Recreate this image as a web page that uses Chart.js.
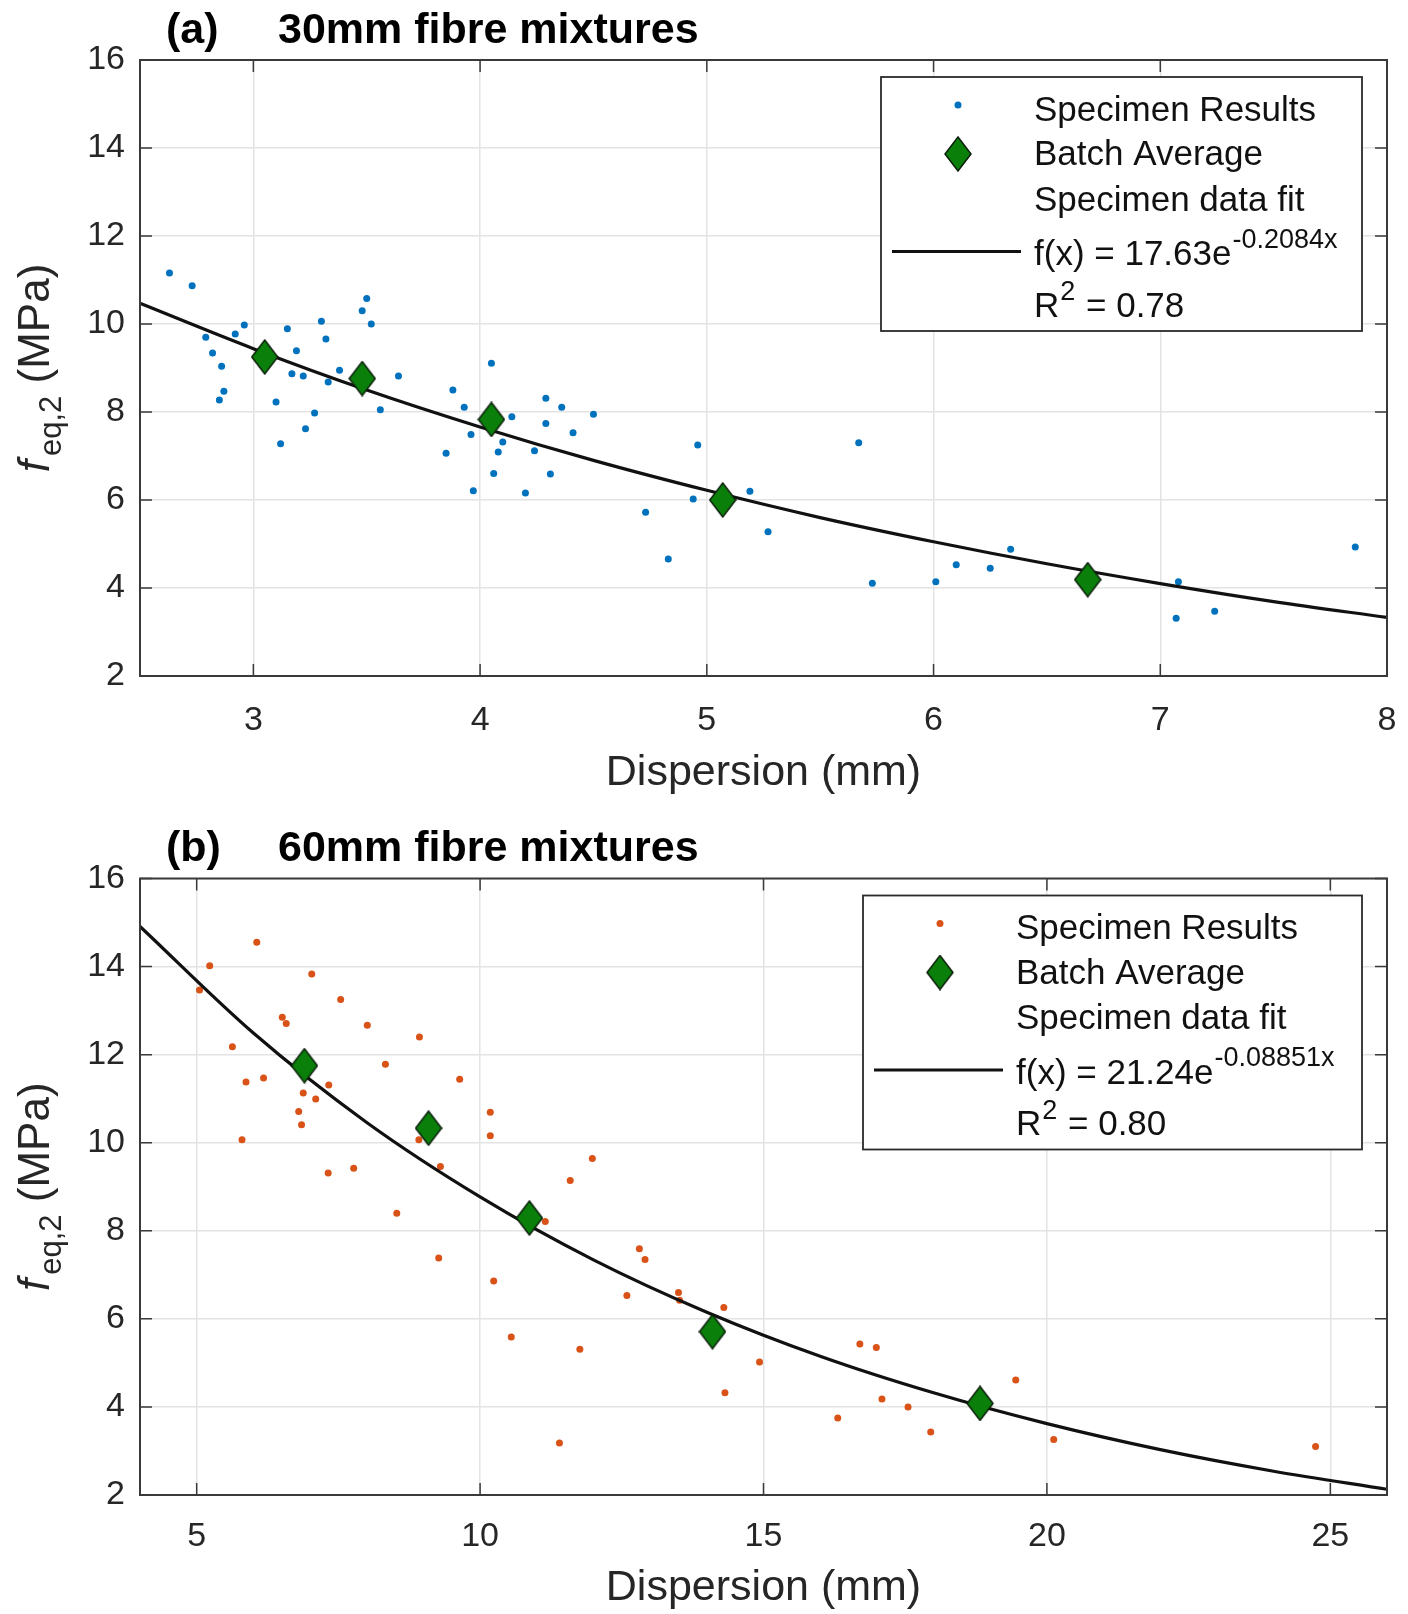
<!DOCTYPE html>
<html>
<head>
<meta charset="utf-8">
<title>feq,2 against dispersion</title>
<script src="https://cdn.jsdelivr.net/npm/chart.js@4.4.0/dist/chart.umd.min.js"></script>
<style>
  html, body { margin: 0; padding: 0; background: #fff; }
  #wrap { position: relative; width: 1408px; height: 1614px; }
  canvas { position: absolute; left: 0; }
  #chartA { top: 0; }
  #chartB { top: 807px; }
</style>
</head>
<body>
<div id="wrap">
  <canvas id="chartA" width="1408" height="807"></canvas>
  <canvas id="chartB" width="1408" height="807"></canvas>
</div>
<script>
'use strict';

// data

// (a) 30mm fibre mixtures
let disp30 = [2.63, 2.73, 2.79, 2.82, 2.86, 2.87, 2.85, 2.92, 2.96, 3.15,
  3.19, 3.17, 3.22, 3.10, 3.12, 3.30, 3.32, 3.33, 3.38, 3.27,
  3.23, 3.48, 3.50, 3.52, 3.64, 3.56, 3.88, 3.93, 4.05, 4.14,
  4.10, 4.08, 3.96, 3.85, 4.06, 3.97, 4.20, 4.29, 4.36, 4.29,
  4.24, 4.31, 4.41, 4.50, 4.96, 4.73, 4.83, 4.94, 5.19, 5.27,
  5.67, 5.73, 6.01, 6.10, 6.25, 6.34, 7.08, 7.07, 7.24, 7.86];
let feq30 = [11.16, 10.87, 9.70, 9.34, 9.04, 8.47, 8.27, 9.77, 9.98, 9.89,
  9.39, 8.87, 8.82, 8.23, 7.28, 10.06, 9.66, 8.68, 8.95, 7.98,
  7.62, 10.30, 10.58, 10.00, 8.82, 8.05, 8.50, 8.11, 9.11, 7.89,
  7.32, 7.09, 7.49, 7.06, 6.60, 6.21, 6.16, 8.31, 8.11, 7.74,
  7.12, 6.59, 7.53, 7.95, 7.25, 5.72, 4.66, 6.02, 6.20, 5.28,
  7.30, 4.11, 4.14, 4.53, 4.45, 4.88, 4.14, 3.31, 3.47, 4.93];
let batchDisp30 = [3.05, 3.48, 4.05, 5.07, 6.68];
let batchFeq30 = [9.25, 8.76, 7.83, 6.00, 4.19];
let fitDisp30 = [2.5, 3, 3.5, 4, 4.5, 5, 5.5, 6, 6.5, 7, 7.5, 8];
let fitFeq30 = [10.47, 9.44, 8.50, 7.66, 6.90, 6.22, 5.60, 5.05, 4.55, 4.10, 3.69, 3.33];
let xTicks30 = [3, 4, 5, 6, 7, 8];

// (b) 60mm fibre mixtures
let disp60 = [6.06, 5.23, 5.05, 7.03, 7.54, 6.51, 6.58, 8.01, 8.93, 5.63,
  8.33, 9.64, 5.87, 6.18, 7.33, 6.88, 7.10, 6.80, 6.85, 10.18,
  10.18, 8.92, 5.80, 7.32, 7.77, 9.30, 8.53, 11.98, 11.59, 11.15,
  9.27, 10.24, 12.81, 12.91, 12.59, 13.50, 13.52, 14.30, 10.55, 11.76,
  14.93, 14.32, 16.70, 16.99, 17.09, 16.31, 11.40, 17.55, 17.95, 19.45,
  20.12, 24.74];
let feq60 = [14.55, 14.02, 13.47, 13.83, 13.25, 12.85, 12.71, 12.67, 12.40, 12.18,
  11.78, 11.44, 11.38, 11.47, 11.31, 11.13, 10.99, 10.71, 10.41, 10.69,
  10.16, 10.07, 10.07, 9.31, 9.42, 9.46, 8.40, 9.64, 9.14, 8.21,
  7.38, 6.86, 7.59, 7.35, 6.53, 6.60, 6.42, 6.26, 5.59, 5.31,
  5.02, 4.32, 5.43, 5.35, 4.18, 3.75, 3.18, 4.00, 3.43, 4.61,
  3.26, 3.10];
let batchDisp60 = [6.90, 9.09, 10.87, 14.10, 18.82];
let batchFeq60 = [11.75, 10.33, 8.29, 5.71, 4.08];
let fitDisp60 = [4, 6, 8, 10, 12, 14, 16, 18, 20, 22, 24, 26];
let fitFeq60 = [14.91, 12.49, 10.46, 8.77, 7.34, 6.15, 5.15, 4.32, 3.62, 3.03, 2.54, 2.13];
let xTicks60 = [5, 10, 15, 20, 25];

let yTicks = [2, 4, 6, 8, 10, 12, 14, 16];
let legendLabels = ['Specimen Results', 'Batch Average', 'Specimen data fit'];

// look

let fontFamily = "'Liberation Sans', Arial, Helvetica, sans-serif";
let axisColor = '#262626';

Chart.defaults.font.family = fontFamily;
Chart.defaults.color = axisColor;

// MATLAB style diamond marker, a bit taller than wide
function makeDiamond(w, h) {
  let c = document.createElement('canvas');
  c.width = w;
  c.height = h;
  let g = c.getContext('2d');
  g.beginPath();
  g.moveTo(w / 2, 1);
  g.lineTo(w - 1, h / 2);
  g.lineTo(w / 2, h - 1);
  g.lineTo(1, h / 2);
  g.closePath();
  g.fillStyle = '#0a7f0a';
  g.fill();
  g.lineWidth = 1.5;
  g.strokeStyle = '#0b1f0b';
  g.stroke();
  return c;
}

let diamondImg = makeDiamond(28, 36);

function toPoints(xs, ys) {
  return xs.map((x, i) => ({ x: x, y: ys[i] }));
}

// plugin: axes box with inward ticks, panel title, y title and legend
function drawFrame(chart) {
  let ctx = chart.ctx;
  let a = chart.chartArea;
  let sx = chart.scales.x;
  let sy = chart.scales.y;
  ctx.save();
  ctx.strokeStyle = '#3a3a3a';
  ctx.lineWidth = 2;
  ctx.strokeRect(a.left, a.top, a.right - a.left, a.bottom - a.top);
  ctx.lineWidth = 1.5;
  ctx.beginPath();
  sx.ticks.forEach(t => {
    let px = sx.getPixelForValue(t.value);
    ctx.moveTo(px, a.bottom);
    ctx.lineTo(px, a.bottom - 12);
    ctx.moveTo(px, a.top);
    ctx.lineTo(px, a.top + 12);
  });
  sy.ticks.forEach(t => {
    let py = sy.getPixelForValue(t.value);
    ctx.moveTo(a.left, py);
    ctx.lineTo(a.left + 12, py);
    ctx.moveTo(a.right, py);
    ctx.lineTo(a.right - 12, py);
  });
  ctx.stroke();
  ctx.restore();
}

function drawTitle(chart, o) {
  let ctx = chart.ctx;
  let a = chart.chartArea;
  ctx.save();
  ctx.font = 'bold 43px ' + fontFamily;
  ctx.fillStyle = '#000';
  ctx.textBaseline = 'middle';
  ctx.fillText(o.tag, a.left + 26, a.top - 29);
  ctx.fillText(o.title, a.left + 138, a.top - 29);
  ctx.restore();
}

function drawYTitle(chart) {
  let ctx = chart.ctx;
  let a = chart.chartArea;
  let mainFont = '44px ' + fontFamily;
  let italicFont = 'italic 44px ' + fontFamily;
  let subFont = '31px ' + fontFamily;
  ctx.save();
  ctx.translate(49, (a.top + a.bottom) / 2);
  ctx.rotate(-Math.PI / 2);
  ctx.fillStyle = axisColor;
  ctx.textBaseline = 'alphabetic';
  ctx.font = italicFont;
  let wf = ctx.measureText('f').width + 4;
  ctx.font = subFont;
  let ws = ctx.measureText('eq,2').width;
  ctx.font = mainFont;
  let wr = ctx.measureText(' (MPa)').width;
  let x = -(wf + ws + wr) / 2;
  ctx.font = italicFont;
  ctx.fillText('f', x, 0);
  x += wf;
  ctx.font = subFont;
  ctx.fillText('eq,2', x, 12);
  x += ws;
  ctx.font = mainFont;
  ctx.fillText(' (MPa)', x, 0);
  ctx.restore();
}

function drawLegend(chart, o) {
  let ctx = chart.ctx;
  let a = chart.chartArea;
  let w = o.boxWidth;
  let h = 254;
  let left = a.right - 25 - w;
  let top = a.top + 17;
  let markX = left + 77;
  let textX = left + 153;
  let rows = [34, 78.5, 124, 178.5, 230];
  let mainFont = '35px ' + fontFamily;
  let supFont = '27px ' + fontFamily;

  ctx.save();
  ctx.fillStyle = '#fff';
  ctx.fillRect(left, top, w, h);
  ctx.strokeStyle = '#2a2a2a';
  ctx.lineWidth = 1.8;
  ctx.strokeRect(left, top, w, h);

  // markers
  ctx.fillStyle = o.dotColor;
  ctx.beginPath();
  ctx.arc(markX, top + 28, 3.5, 0, Math.PI * 2);
  ctx.fill();
  ctx.drawImage(diamondImg, markX - diamondImg.width / 2, top + 77 - diamondImg.height / 2);
  ctx.strokeStyle = '#111';
  ctx.lineWidth = 3.2;
  ctx.beginPath();
  ctx.moveTo(left + 11, top + 174.5);
  ctx.lineTo(left + 140, top + 174.5);
  ctx.stroke();

  // texts
  ctx.fillStyle = '#111';
  ctx.textBaseline = 'middle';
  ctx.font = mainFont;
  for (let i = 0; i < legendLabels.length; i++) {
    ctx.fillText(legendLabels[i], textX, top + rows[i]);
  }
  let base = 'f(x) = ' + o.fitA + 'e';
  ctx.fillText(base, textX, top + rows[3]);
  let wb = ctx.measureText(base).width;
  ctx.font = supFont;
  ctx.fillText(o.fitB + 'x', textX + wb + 1, top + rows[3] - 15);

  ctx.font = mainFont;
  ctx.fillText('R', textX, top + rows[4]);
  let wR = ctx.measureText('R').width;
  ctx.font = supFont;
  ctx.fillText('2', textX + wR + 1, top + rows[4] - 14);
  let w2 = ctx.measureText('2').width;
  ctx.font = mainFont;
  ctx.fillText(' = ' + o.r2, textX + wR + w2 + 2, top + rows[4]);
  ctx.restore();
}

let matlabLook = {
  id: 'matlabLook',
  afterDatasetsDraw(chart) {
    drawFrame(chart);
  },
  afterDraw(chart, args, opts) {
    drawTitle(chart, opts);
    drawYTitle(chart);
    drawLegend(chart, opts);
  }
};

function makeChart(canvasId, p) {
  let config = {
    type: 'scatter',
    data: {
      datasets: [
        {
          label: 'Batch Average',
          data: toPoints(p.batchX, p.batchY),
          pointStyle: diamondImg,
          order: 0
        },
        {
          label: 'Specimen data fit',
          data: toPoints(p.fitX, p.fitY),
          showLine: true,
          borderColor: '#111',
          borderWidth: 3.2,
          pointRadius: 0,
          cubicInterpolationMode: 'monotone',
          order: 1
        },
        {
          label: 'Specimen Results',
          data: toPoints(p.xs, p.ys),
          backgroundColor: p.dotColor,
          borderWidth: 0,
          pointRadius: 3.5,
          order: 2
        }
      ]
    },
    options: {
      responsive: false,
      animation: false,
      devicePixelRatio: 1,
      layout: { padding: { top: p.padTop, right: 21, left: 0, bottom: 0 } },
      plugins: {
        legend: { display: false },
        tooltip: { enabled: false },
        matlabLook: {
          tag: p.tag,
          title: p.title,
          dotColor: p.dotColor,
          boxWidth: p.boxWidth,
          fitA: p.fitA,
          fitB: p.fitB,
          r2: p.r2
        }
      },
      scales: {
        x: {
          type: 'linear',
          min: p.xMin,
          max: p.xMax,
          afterBuildTicks: scale => {
            scale.ticks = p.xTicks.map(v => ({ value: v }));
          },
          afterFit: scale => {
            scale.height = p.xAxisHeight;
          },
          // invisible tick marks push the labels down without widening the side padding
          grid: {
            color: '#e3e3e3',
            lineWidth: 1.5,
            drawTicks: true,
            tickLength: p.xTickGap,
            tickColor: 'rgba(0,0,0,0)'
          },
          border: { display: false },
          ticks: {
            font: { size: 34 },
            color: axisColor,
            padding: 2,
            maxRotation: 0
          },
          title: {
            display: true,
            text: 'Dispersion (mm)',
            font: { size: 43 },
            color: axisColor,
            padding: { top: 0, bottom: p.xTitlePad }
          }
        },
        y: {
          type: 'linear',
          min: 2,
          max: 16,
          afterBuildTicks: scale => {
            scale.ticks = yTicks.map(v => ({ value: v }));
          },
          afterFit: scale => {
            scale.width = 140;
          },
          grid: { color: '#e3e3e3', lineWidth: 1.5, drawTicks: false },
          border: { display: false },
          ticks: {
            font: { size: 34 },
            color: axisColor,
            padding: 15
          }
        }
      }
    },
    plugins: [matlabLook]
  };
  return new Chart(document.getElementById(canvasId), config);
}

// executable code

makeChart('chartA', {
  tag: '(a)',
  title: '30mm fibre mixtures',
  xs: disp30,
  ys: feq30,
  batchX: batchDisp30,
  batchY: batchFeq30,
  fitX: fitDisp30,
  fitY: fitFeq30,
  xTicks: xTicks30,
  xMin: 2.5,
  xMax: 8,
  dotColor: '#0072BD',
  fitA: '17.63',
  fitB: '-0.2084',
  r2: '0.78',
  boxWidth: 481,
  padTop: 60,
  xAxisHeight: 131,
  xTickGap: 22,
  xTitlePad: 8
});

makeChart('chartB', {
  tag: '(b)',
  title: '60mm fibre mixtures',
  xs: disp60,
  ys: feq60,
  batchX: batchDisp60,
  batchY: batchFeq60,
  fitX: fitDisp60,
  fitY: fitFeq60,
  xTicks: xTicks60,
  xMin: 4,
  xMax: 26,
  dotColor: '#D95319',
  fitA: '21.24',
  fitB: '-0.08851',
  r2: '0.80',
  boxWidth: 499,
  padTop: 71.5,
  xAxisHeight: 119,
  xTickGap: 19,
  xTitlePad: 0
});
</script>
</body>
</html>
